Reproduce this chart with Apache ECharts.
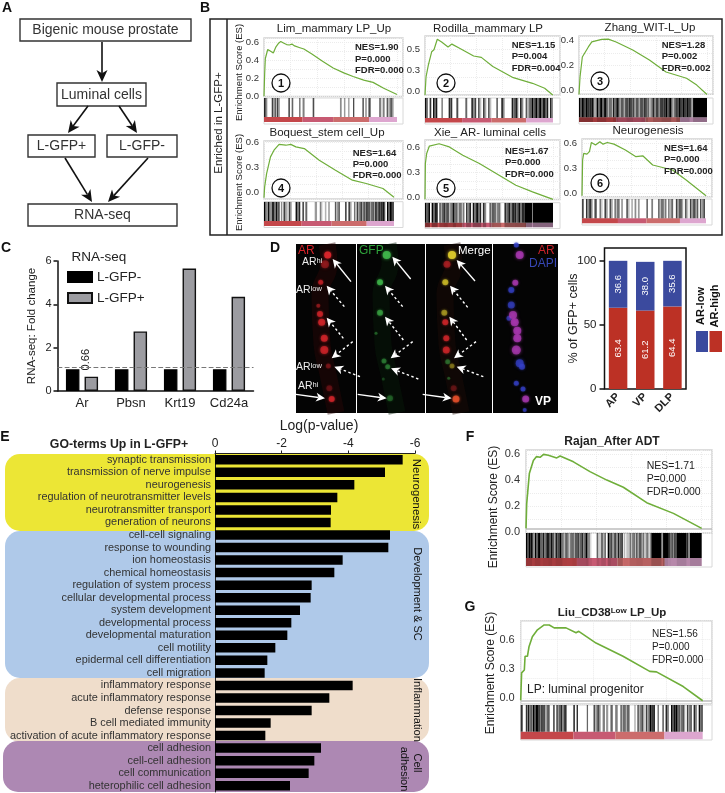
<!DOCTYPE html>
<html><head><meta charset="utf-8">
<style>html,body{margin:0;padding:0;background:#fff}#c{width:725px;height:793px}</style>
<script src="https://cdn.jsdelivr.net/npm/echarts@6/dist/echarts.min.js"></script>
</head><body><div id="c"></div>
<script>
// ---------- DATA ----------
const es1=[[0,0],[0.5,.25],[1,.42],[2,.44],[2.8,.52],[5,.50],[7,.48],[9,.55],[11,.59],[12.6,.61],[15,.59],[17,.575],[19,.57],[21,.58],[23,.56],[27,.54],[30,.525],[36,.47],[44,.39],[52,.315],[60,.26],[67,.22],[75,.18],[82,.155],[90,.09],[100,.02]];
const es2=[[0,-.05],[.8,.21],[2.6,.38],[5.2,.57],[7,.6],[9.6,.75],[13,.71],[18,.64],[21,.68],[27,.62],[38,.51],[44,.49],[53,.36],[69,.2],[84,.12],[93.5,.05],[100,-.05]];
const es3=[[0,-.03],[.8,.11],[2.6,.27],[7.3,.35],[10,.39],[17.7,.41],[22.9,.413],[29,.39],[42,.325],[55,.245],[68,.15],[84,.1],[92,.045],[100,-.03]];
const es4=[[0,-.06],[.5,.07],[2,.23],[5,.43],[7.7,.51],[11.6,.58],[16.8,.57],[20.6,.58],[24.5,.55],[31,.53],[42.5,.39],[55,.27],[68,.15],[78.6,.11],[91.5,.05],[100,-.055]];
const es5=[[0,-.02],[.3,.41],[1.3,.53],[3.4,.62],[11,.648],[19,.61],[29.5,.51],[42.5,.41],[55.6,.29],[71,.15],[84,.07],[100,-.02]];
const es6=[[0,-.03],[.5,.4],[1.4,.48],[4,.47],[6,.5],[7.6,.61],[10.9,.58],[14.4,.62],[17,.59],[20.4,.61],[25.8,.59],[35,.52],[43.5,.44],[49,.45],[57,.34],[73,.28],[84,.16],[100,-.03]];
const esF=[[0,.03],[.4,.22],[1.9,.45],[4.2,.55],[6,.58],[8,.575],[10,.597],[12.7,.59],[17.5,.57],[19.4,.585],[27,.54],[36.4,.465],[46,.40],[55.4,.345],[68.7,.227],[83.9,.145],[100,.03]];
const esG=[[0,-.02],[.5,.26],[2,.29],[2.4,.43],[3.7,.43],[4.6,.53],[6.4,.63],[9.2,.70],[12.9,.75],[15.7,.75],[18.4,.72],[24.9,.72],[30.4,.67],[31.9,.685],[41.4,.565],[56.2,.43],[70.9,.275],[74.6,.27],[89.3,.12],[100,-.025]];

// rank ranges of gene hits: [from %, to %, hit density]
const rug1=[[0,2.5,.7],[5.8,9,.6],[9.5,12,.6],[18.3,19.5,.7],[20.8,22,.6],[26.3,27.5,.5],[29,30.5,.5],[36.6,37.8,.7],[57.1,58.4,.45],[60.1,61.2,.4],[63.4,64.2,.5],[66.9,67.9,.7],[73.9,75.2,.6],[76.2,77.2,.5],[78.5,80.2,.7],[86.5,88.2,.5],[89.2,90.7,.5],[92.2,97.7,.5]];
const rug2=[[0,2.3,.8],[3.6,4.9,.8],[6.3,9.6,.85],[12.8,14,.5],[18.5,21.3,.8],[24.5,26,.7],[31.5,33,.6],[36.2,40,.7],[41.4,44,.5],[45.3,47.9,.6],[49.2,51.8,.5],[55.7,57,.6],[59.6,62.2,.7],[67.7,72.9,.75],[74.2,76.8,.7],[78.6,83.3,.5],[83.3,96.3,.85],[97.6,100,.7]];
const rug3=[[0,10.9,.95],[10.9,14,.5],[14,21.4,.85],[21.4,26.6,.55],[26.6,30.5,.8],[30.5,37,.6],[37,42.2,.8],[42.2,48.7,.6],[48.7,53.9,.75],[53.9,57.8,.45],[57.8,64.3,.7],[64.3,72.1,.9],[72.1,76,.5],[76,86.5,.95],[86.5,89.1,.6],[89.1,100,1]];
const rug4=[[0,2,.85],[2,3,.4],[3,5,.8],[5,6,.4],[6,8,.85],[8,9,.5],[9,12,.8],[13,15,.3],[15,17.6,.6],[17.6,18.9,.2],[19.1,21.4,.6],[24.3,27.9,.8],[29.5,30.8,.7],[31.8,33.3,.6],[39,40.8,.4],[42.9,45.5,.35],[46.8,48,.3],[49.4,50.6,.4],[54.5,58.4,.5],[62.3,63.6,.7],[64.9,67.4,.6],[69.2,71.3,.4],[71.3,76.5,.6],[76.5,80.4,.7],[80.4,85.5,.6],[85.5,88,.75],[88,93.3,.9],[94.6,100,.95]];
const rug5=[[0,3.9,.9],[5.2,9.9,.85],[11.2,14.4,.6],[14.4,17.8,.75],[17.8,21.7,.5],[21.7,24.3,.8],[24.3,30.8,.5],[32.1,36,.7],[37.3,43.9,.8],[45.2,47.8,.7],[50.4,54.3,.6],[54.3,59.5,.5],[62.1,69.9,.75],[69.9,77.8,.8],[77.8,83.6,1],[84,100,1]];
const rug6=[[0,1.4,.7],[3.2,8.6,.65],[10,11.9,.7],[14.1,16.8,.4],[18.1,20.8,.6],[22.2,24.9,.55],[26.2,30.3,.5],[31.6,33,.4],[35.7,38.4,.5],[39.7,41.1,.3],[42.4,43.8,.45],[45.1,46.5,.4],[51.9,53.2,.6],[55.9,57.3,.5],[61.4,68.1,.5],[69.5,73.5,.45],[75.7,81.6,.6],[83,85.7,.5],[87,93.8,.6],[95.1,99.2,.55]];
const rugF=[[0,3.4,.95],[3.4,5,.6],[5,8.2,.9],[8.2,9.6,.6],[9.6,12.6,.75],[12.6,14.9,.9],[14.9,16.8,.6],[16.8,20.7,.85],[20.7,23.5,.5],[23.5,26.4,.45],[26.4,29.3,.6],[29.3,34,.7],[34,35.6,.85],[35.6,37.5,.3],[40.2,41.7,.5],[41.7,42.8,.2],[42.8,45.5,.55],[46.5,48.4,.85],[48.4,52.2,.6],[52.2,55.1,.75],[55.6,58.5,.15],[58.9,62.7,.5],[62.7,66.5,.6],[66.5,71.3,.4],[71.3,77.1,1],[77.1,78,.4],[78,80.9,1],[80.9,82.8,.8],[82.8,85.7,.7],[85.7,91.4,1],[91.4,93.3,.7],[93.3,100,1]];
const rugG=[[0,1.1,.8],[2.8,3.7,.8],[3.9,6.1,.75],[6.5,9.8,.95],[9.8,12.6,.75],[12.6,15.9,.55],[17.8,18.7,.7],[19.6,21.9,.65],[21.9,25.2,.7],[28.9,29.8,.8],[30.7,31.5,.8],[36.3,37,.6],[40,44.1,.55],[45,46.3,.5],[46.9,48.1,.4],[49.3,50.6,.6],[51.9,53.3,.5],[54.8,59.8,.55],[62.6,63,.6],[64.1,68.1,.55],[68.7,70.9,.6],[70.9,73.7,.95],[75.2,75.9,.6],[77.8,78.7,.6],[79.6,81.5,.7],[82.6,86.7,.9],[86.7,90.4,.6],[91.3,94,.6],[95,96.9,.7],[97.8,100,.8]];
const heatRanges=[[0,29],[29,52],[52,79],[79,100]];

// Panel C
const geneNames=['Ar','Pbsn','Krt19','Cd24a'];
const gfpNeg=[1,1,1,1];
const gfpPos=[0.66,2.75,5.65,4.35];
const baseline=[1.08];
// Panel D bars
const prostateLobes=['AP','VP','DLP'];
const arHigh=[63.4,61.2,64.4];
const arLow=[36.6,38.0,35.6];
// Panel D micrograph spots: [x, y, spot size, intensity]
const spotsAR=[[31.7,11,7,.95],[29,20.3,8,.4],[24.7,38.3,5,.6],[22.3,61.7,4,.4],[24,70,6,.7],[25.7,78.3,7,.75],[28.3,94.3,7,.75],[28.3,106,8,.7],[32.3,122,5,.3],[35.7,155,6,.75],[33.3,144.3,6,.25]];
const spotsGFP=[[29.7,11,8,.9],[23,38.3,6,.8],[23,68.7,6,.6],[19,89.3,3,.3],[27,117,5,.4],[30.7,122.7,5,.4],[33,154.3,6,.3],[26.3,135,3,.2]];
const spotsMergeRed=[[21,20.3,7,.5],[19.3,78.3,6,.7],[20.3,94.3,6,.7],[20.3,106,7,.7],[27.7,144.3,6,.25]];
const spotsMergeYellow=[[26,11,8,1],[19.3,38.3,6,.7],[18.3,68.7,6,.5],[26,122,5,.35]];
const spotsMergeGreen=[[21.7,117.7,5,.4],[22.7,134.3,3,.3]];
const spotsMergeOrange=[[30,155,7,.8]];
const spotsDapiBlue=[[23.3,1,5,.7],[18.3,46,6,.7],[18.3,61,7,.65],[16,74.3,5,.6],[26.7,119.3,8,.7],[29,122.7,6,.7],[23.3,139.3,5,.7],[30,145,5,.7],[31.7,166,4,.6]];
const spotsDapiMagenta=[[26.7,11,8,.75],[22.3,38.7,6,.7],[20,71,8,.7],[21.7,78.3,8,.75],[24.3,86.7,8,.75],[24.3,94.3,8,.75],[23.3,106,9,.7],[32.7,155,7,.7]];
const tissueLine=[[31,0],[33,20],[24,50],[26,100],[32,130],[40,169]];

// Panel E
const goTerms=['synaptic transmission','transmission of nerve impulse','neurogenesis','regulation of neurotransmitter levels','neurotransmitter transport','generation of neurons','cell-cell signaling','response to wounding','ion homeostasis','chemical homeostasis','regulation of system process','cellular developmental process','system development','developmental process','developmental maturation','cell motility','epidermal cell differentiation','cell migration','inflammatory response','acute inflammatory response','defense response','B cell mediated immunity','activation of acute inflammatory response','cell adhesion','cell-cell adhesion','cell communication','heterophilic cell adhesion'];
const goLogP=[-5.63,-5.1,-4.18,-3.67,-3.48,-3.47,-5.25,-5.2,-3.83,-3.58,-2.9,-2.87,-2.55,-2.29,-2.17,-1.81,-1.57,-1.49,-4.13,-3.43,-2.9,-1.67,-1.51,-3.18,-2.98,-2.81,-2.25];

// ---------- LAYOUT ----------
const FF='"Liberation Sans",Arial,sans-serif';
const heatColors=['#C4474A','#C75A72','#CC6C6C','#DDA6CF'];
const stripePattern=[.15,-.25,.05];
const panels=[
 {es:es1,rug:rug1,L:264,R:403,C:397,top:38,bot:96.5,y0:96.3,s:90,ticks:[0,.2,.4,.6],labs:['0.0','0.2','0.4','0.6'],rugTop:98,heatTop:117,heatBot:122,gridBot:124,dark:0,fs:9.5},
 {es:es2,rug:rug2,L:425,R:560,C:553,top:36,bot:95,y0:91.7,s:70,ticks:[0,.3,.6],labs:['0.0','0.3','0.5'],rugTop:98,heatTop:118,heatBot:122.5,gridBot:124,dark:0,fs:9.5},
 {es:es3,rug:rug3,L:579,R:713,C:707,top:36,bot:94.3,y0:90.7,s:125,ticks:[0,.2,.4],labs:['0.0','0.2','0.4'],rugTop:98,heatTop:117.3,heatBot:122,gridBot:124,dark:.35,fs:9.5},
 {es:es4,rug:rug4,L:264,R:403,C:394,top:141,bot:199,y0:192.7,s:83.3,ticks:[0,.3,.6],labs:['0.0','0.3','0.6'],rugTop:201.7,heatTop:221,heatBot:226,gridBot:227.5,dark:0,fs:9.5},
 {es:es5,rug:rug5,L:425,R:560,C:553,top:140,bot:199.5,y0:197.7,s:83.3,ticks:[0,.3,.6],labs:['0.0','0.3','0.6'],rugTop:202.7,heatTop:222.7,heatBot:227.3,gridBot:228.5,dark:.4,fs:9.5},
 {es:es6,rug:rug6,L:582,R:712,C:706,top:139,bot:196.7,y0:193.3,s:83.3,ticks:[0,.3,.6],labs:['0.0','0.3','0.6'],rugTop:199,heatTop:218.3,heatBot:223.3,gridBot:225,dark:0,fs:9.5},
 {es:esF,rug:rugF,L:526,R:712,C:701.7,top:450,bot:533,y0:532.3,s:130.5,ticks:[0,.2,.4,.6],labs:['0.0','0.2','0.4','0.6'],rugTop:533,heatTop:558,heatBot:566,gridBot:567,dark:.25,fs:11,zero:.025,lw:1.6},
 {es:esG,rug:rugG,L:520.7,R:712,C:702.7,top:620.7,bot:704,y0:698.3,s:97.8,ticks:[0,.3,.6],labs:['0.0','0.3','0.6'],rugTop:705,heatTop:731.7,heatBot:739.3,gridBot:740,dark:0,fs:11,zero:-.025,lw:1.6}
];

const grid=[],xAxis=[],yAxis=[],series=[],graphic=[];
function addGrid(g,x,y){grid.push(Object.assign({containLabel:false},g));const i=grid.length-1;
  xAxis.push(Object.assign({gridIndex:i},x));yAxis.push(Object.assign({gridIndex:i},y));return i;}
function gridBox(l,t,r,b,extra){return Object.assign({left:l,top:t,width:r-l,height:b-t},extra||{});}
function txt(x,y,text,o){o=o||{};graphic.push({type:'text',x,y,rotation:o.rot||0,z:o.z==null?100:o.z,silent:true,style:{
  text,fontFamily:FF,fontSize:o.size||12,fontWeight:o.bold?'bold':'normal',fill:o.color||'#222',
  align:o.align||'center',verticalAlign:'middle',rich:o.rich}});}
function rect(x,y,w,h,o){o=o||{};graphic.push({type:'rect',z:o.z==null?50:o.z,silent:true,shape:{x,y,width:w,height:h,r:o.r||0},
  style:{fill:o.fill||'none',stroke:o.stroke||null,lineWidth:o.lw||0}});}
function arrow(x1,y1,x2,y2,o){o=o||{};const c=o.color||'#111',w=o.w||1.5,hl=o.hl||12,hw=o.hw||5;
  const a=Math.atan2(y2-y1,x2-x1),ca=Math.cos(a),sa=Math.sin(a);
  const bx=x2-ca*hl,by=y2-sa*hl,nx=x2-ca*hl*.72,ny=y2-sa*hl*.72;
  graphic.push({type:'line',z:100,silent:true,shape:{x1,y1,x2:nx,y2:ny},style:{stroke:c,lineWidth:w,lineDash:o.dash||null}});
  graphic.push({type:'polygon',z:100,silent:true,shape:{points:[[x2,y2],[bx-sa*hw,by+ca*hw],[nx,ny],[bx+sa*hw,by-ca*hw]]},style:{fill:c}});}

// ---------- Panel labels ----------
[['A',7,8],['B',205,8],['C',6,248],['D',275,248],['E',5,437],['F',470,437],['G',470,607]].forEach(p=>txt(p[1],p[2],p[0],{bold:true,size:14,color:'#111'}));

// ---------- Panel A ----------
[[20,19,171,22,'Bigenic mouse prostate'],[57,83,89,23,'Luminal cells'],[28,135,67,22,'L-GFP+'],[107,135,70,22,'L-GFP-'],[28,204,149,22,'RNA-seq']].forEach(b=>{
  rect(b[0],b[1],b[2],b[3],{stroke:'#333',lw:1.4});txt(b[0]+b[2]/2,b[1]+b[3]/2+.5,b[4],{size:14,color:'#333'});});
[[102,42,102,82],[88,106,68,133],[119,106,137,133],[65,158,92,202],[148,158,108,202]].forEach(a=>arrow(a[0],a[1],a[2],a[3],{hl:12,hw:5.5,w:1.6}));

// ---------- Panel B frame + GSEA ----------
rect(210,19,512,216,{stroke:'#222',lw:1.5});
graphic.push({type:'line',z:50,silent:true,shape:{x1:227,y1:19,x2:227,y2:235},style:{stroke:'#222',lineWidth:1.5}});
txt(219,123,'Enriched in L-GFP+',{rot:Math.PI/2,size:11.5,color:'#222'});
txt(239,72.5,'Enrichment Score (ES)',{rot:Math.PI/2,size:9.5,color:'#222'});
txt(239,182.5,'Enrichment Score (ES)',{rot:Math.PI/2,size:9.5,color:'#222'});
txt(494,507,'Enrichment Score (ES)',{rot:Math.PI/2,size:12,color:'#222'});
txt(491,673,'Enrichment Score (ES)',{rot:Math.PI/2,size:12,color:'#222'});

panels.forEach(p=>{
  const xMax=100*(p.R-p.L)/(p.C-p.L);
  const faint={show:true,lineStyle:{color:'#ececec',type:'dotted',width:1}};
  const iEs=addGrid(gridBox(p.L,p.top,p.R,p.bot,{show:true,borderColor:'#d2d2d2',borderWidth:1.4}),
    {type:'value',min:0,max:xMax,interval:20,axisLine:{show:false},axisTick:{show:false},axisLabel:{show:false},splitLine:faint},
    {type:'value',min:(p.y0-p.bot)/p.s,max:(p.y0-p.top)/p.s,axisLine:{show:false},axisTick:{show:false},splitLine:faint,
     axisLabel:{customValues:p.ticks,margin:p.fs>10?6:5,fontSize:p.fs,color:'#333',fontFamily:FF,formatter:v=>{const k=p.ticks.findIndex(t=>Math.abs(t-v)<1e-6);return k<0?'':p.labs[k];}}});
  const s={type:'line',xAxisIndex:iEs,yAxisIndex:iEs,data:p.es,showSymbol:false,symbol:'none',z:5,lineStyle:{color:'#6FAE3A',width:p.lw||1.2}};
  if(p.zero!=null)s.markLine={silent:true,symbol:'none',animation:false,label:{show:false},lineStyle:{color:'#bdbdbd',width:1.5,type:'solid'},data:[{yAxis:p.zero}]};
  series.push(s);
  const H=p.gridBot-p.rugTop, fy=py=>(p.gridBot-py)/H;
  const iR=addGrid(gridBox(p.L,p.rugTop,p.R,p.gridBot,{show:true,borderColor:'#d8d8d8',borderWidth:1}),
    {type:'value',min:0,max:xMax,show:false},{type:'value',min:0,max:1,show:false});
  series.push({type:'custom',xAxisIndex:iR,yAxisIndex:iR,silent:true,clip:true,z:3,data:heatRanges.map((r,i)=>[r[0],r[1],i]),encode:{x:[0,1]},
    renderItem:(pa,api)=>{const a=api.coord([api.value(0),fy(p.heatTop)]),b=api.coord([api.value(1),fy(p.heatBot)]);
      return {type:'rect',shape:{x:a[0],y:a[1],width:b[0]-a[0],height:b[1]-a[1]},style:{fill:heatColors[api.value(2)]}};}});
  series.push({type:'custom',xAxisIndex:iR,yAxisIndex:iR,silent:true,clip:true,z:4,data:p.rug,encode:{x:[0,1]},
    renderItem:(pa,api)=>{const a=api.coord([api.value(0),fy(p.rugTop)]),b=api.coord([api.value(1),fy(p.heatTop)]),c=api.coord([api.value(1),fy(p.heatBot)]);
      const d=api.value(2),w=b[0]-a[0],n=(w>=2.6&&d<.97)?Math.round(w/1.4):1,children=[];
      for(let i=0;i<n;i++){const al=n===1?d:Math.max(.08,Math.min(1,d+stripePattern[i%3]));
        children.push({type:'rect',shape:{x:a[0]+i*w/n,y:a[1],width:w/n,height:b[1]-a[1]},style:{fill:'rgba(0,0,0,'+al+')'}});}
      children.push({type:'rect',shape:{x:a[0],y:b[1],width:w,height:c[1]-b[1]},style:{fill:'rgba(0,0,0,'+(d*p.dark)+')'}});
      return {type:'group',children};}});
});

// GSEA titles and statistics
[['Lim_mammary LP_Up',334,29],['Rodilla_mammary LP',488,29],['Zhang_WIT-L_Up',650,28],['Boquest_stem cell_Up',327,133],['Xie_ AR- luminal cells',490,133],['Neurogenesis',648,131]].forEach(t=>txt(t[1],t[2],t[0],{size:11.5,color:'#222'}));
txt(612,442,'Rajan_After ADT',{size:12,bold:true,color:'#222'});
txt(612,613,'{a|Liu_CD38}{s|Low}{a| LP_Up}',{rich:{a:{fontSize:11.5,fontWeight:'bold',fontFamily:FF,fill:'#222'},s:{fontSize:8,fontWeight:'bold',fontFamily:FF,fill:'#222',verticalAlign:'top'}}});
[[355,47,59,70,['NES=1.90','P=0.000','FDR=0.000']],[511.7,45.5,56.5,68,['NES=1.15','P=0.004','FDR=0.004']],[661.7,45.5,56.5,68,['NES=1.28','P=0.002','FDR=0.002']],
 [352.7,153,164,175,['NES=1.64','P=0.000','FDR=0.000']],[505,151,162.5,174,['NES=1.67','P=0.000','FDR=0.000']],[664,148,159,171,['NES=1.64','P=0.000','FDR=0.000']]].forEach(n=>{
  n[4].forEach((s,i)=>txt(n[0],n[i+1],s,{align:'left',size:9.5,bold:true,color:'#222'}));});
[['NES=1.71',466],['P=0.000',479.5],['FDR=0.000',492]].forEach(n=>txt(646.7,n[1],n[0],{align:'left',size:10.5,color:'#222'}));
[['NES=1.56',634],['P=0.000',647],['FDR=0.000',660]].forEach(n=>txt(652,n[1],n[0],{align:'left',size:10,color:'#222'}));
txt(527,690,'LP: luminal progenitor',{align:'left',size:12,color:'#222'});
[[281,83,'1'],[446,83,'2'],[600,81,'3'],[281,188,'4'],[446,188,'5'],[600,183,'6']].forEach(c=>{
  graphic.push({type:'circle',z:99,silent:true,shape:{cx:c[0],cy:c[1],r:9},style:{fill:'#fff',stroke:'#111',lineWidth:1.3}});
  txt(c[0],c[1]+.5,c[2],{bold:true,size:11,color:'#111'});});

// ---------- Panel C ----------
const iC=addGrid(gridBox(57.5,261,253.5,391),
  {type:'category',data:geneNames,axisLine:{lineStyle:{color:'#111',width:1.5}},axisTick:{alignWithLabel:true,length:4,lineStyle:{color:'#111',width:1.5}},axisLabel:{interval:0,hideOverlap:false,fontSize:13,color:'#222',margin:6,fontFamily:FF}},
  {type:'value',min:0,max:6,interval:2,name:'RNA-seq: Fold change',nameLocation:'middle',nameGap:20,nameMoveOverlap:false,nameTextStyle:{fontSize:11.5,color:'#222',fontFamily:FF},axisLine:{show:true,lineStyle:{color:'#111',width:1.5}},axisTick:{show:true,length:4,lineStyle:{color:'#111',width:1.5}},splitLine:{show:false},axisLabel:{fontSize:11,color:'#222',margin:6,fontFamily:FF}});
series.push({type:'bar',name:'L-GFP-',xAxisIndex:iC,yAxisIndex:iC,data:gfpNeg,barWidth:13.5,barGap:'38%',itemStyle:{color:'#000',borderColor:'#000',borderWidth:1.2},
  markLine:{silent:true,symbol:'none',animation:false,label:{show:false},lineStyle:{color:'#777',type:'dashed',width:1.2},data:baseline.map(v=>({yAxis:v}))}});
series.push({type:'bar',name:'L-GFP+',xAxisIndex:iC,yAxisIndex:iC,barWidth:13.5,barGap:'38%',itemStyle:{color:'#9C9CA1',borderColor:'#111',borderWidth:1.4},
  data:gfpPos.map((v,i)=>i===0?{value:v,label:{show:true,position:'top',rotate:90,distance:17,fontSize:11,color:'#222',fontFamily:FF,formatter:'{c}'}}:v)});
txt(99,257,'RNA-seq',{size:13.5,color:'#222'});

// ---------- Panel D micrograph ----------
function micro(l,r,layers,tissue,tcolor){
  const i=addGrid(gridBox(l,244,r,413,{show:true,backgroundColor:'#040404',borderWidth:0}),
    {type:'value',min:0,max:r-l,show:false},{type:'value',min:0,max:169,inverse:true,show:false});
  series.push({type:'line',xAxisIndex:i,yAxisIndex:i,data:tissue,smooth:true,symbol:'none',silent:true,z:2,lineStyle:{color:tcolor,width:17,opacity:.45}});
  layers.forEach(ly=>{series.push({type:'scatter',xAxisIndex:i,yAxisIndex:i,silent:true,z:3,
    data:ly[0].map(d=>({value:[d[0],d[1]],symbolSize:d[2],itemStyle:{color:ly[1],opacity:d[3],shadowBlur:d[2]*.4,shadowColor:ly[1]}}))});});
}
micro(296,356,[[spotsAR,'#D8252B']],tissueLine,'#2a0707');
micro(357,425,[[spotsGFP,'#3FB54A']],tissueLine,'#071a09');
micro(426,492,[[spotsMergeRed,'#D9262B'],[spotsMergeGreen,'#3FA544'],[spotsMergeYellow,'#D6C42A'],[spotsMergeOrange,'#E8502A']],tissueLine.map(d=>[d[0]-5,d[1]]),'#1c0a06');
micro(493,558,[[spotsDapiBlue,'#3540C8'],[spotsDapiMagenta,'#B03AB8']],[[0,0],[0,0]],'#040404');

const wA={color:'#fff',w:1.4,hl:9,hw:4.5};const wD={color:'#fff',w:1.4,hl:9,hw:4.5,dash:[2.5,2.5]};
const zp=(x,y)=>[290+x/3,235+y/3];
function zArrow(a,b,c,d,o){const p=zp(a,b),q=zp(c,d);arrow(p[0],p[1],q[0],q[1],o);}
[[183,140,128,72],[18,478,105,490],[362,132,307,65],[203,478,290,490],[555,138,500,75],[398,478,485,490]].forEach(a=>zArrow(a[0],a[1],a[2],a[3],wA));
[[163,215,110,152],[160,310,110,248],[188,320,125,370],[210,425,133,395],[338,215,285,152],[340,315,285,245],[368,320,302,370],[385,432,303,400],[533,217,480,152],[530,315,478,245],[558,320,492,370],[580,425,500,395]].forEach(a=>zArrow(a[0],a[1],a[2],a[3],wD));
const sup={a:{fontSize:10.5,fill:'#eee',fontFamily:FF},s:{fontSize:7.5,fill:'#eee',fontFamily:FF,verticalAlign:'top'}};
txt(298,251,'AR',{align:'left',size:12,color:'#D8232A'});
txt(359,251,'GFP',{align:'left',size:12,color:'#2FA33B'});
txt(458,251,'Merge',{align:'left',size:11.5,color:'#fff'});
txt(538,251,'AR',{align:'left',size:12,color:'#C8232A'});
txt(529,264,'DAPI',{align:'left',size:12,color:'#3747B5'});
txt(535,402,'VP',{align:'left',size:12,bold:true,color:'#fff'});
txt(302,262,'{a|AR}{s|hi}',{align:'left',rich:sup});
txt(296,290,'{a|AR}{s|low}',{align:'left',rich:sup});
txt(296,367,'{a|AR}{s|low}',{align:'left',rich:sup});
txt(298,386,'{a|AR}{s|hi}',{align:'left',rich:sup});

// ---------- Panel D bars ----------
const iD=addGrid(gridBox(604.5,248,686,389,{show:true,borderColor:'#111',borderWidth:1.5}),
  {type:'category',data:prostateLobes,axisLine:{show:false},axisTick:{alignWithLabel:true,length:4,lineStyle:{color:'#111',width:1.5}},axisLabel:{interval:0,rotate:45,fontSize:11,fontWeight:'bold',color:'#222',margin:6,fontFamily:FF}},
  {type:'value',min:0,max:110,interval:50,name:'% of GFP+ cells',nameLocation:'middle',nameGap:24,nameMoveOverlap:false,nameTextStyle:{fontSize:12.5,color:'#222',fontFamily:FF},axisLine:{show:false},axisTick:{show:true,length:5,lineStyle:{color:'#111',width:1.5}},splitLine:{show:false},axisLabel:{fontSize:11.5,color:'#222',margin:8,showMaxLabel:false,fontFamily:FF}});
const barLab={show:true,position:'inside',rotate:90,fontSize:9.5,color:'#fff',fontFamily:FF,formatter:p=>p.value.toFixed(1)};
series.push({type:'bar',name:'AR-high',stack:'d',xAxisIndex:iD,yAxisIndex:iD,data:arHigh,barWidth:18.5,itemStyle:{color:'#BC3125'},label:barLab});
series.push({type:'bar',name:'AR-low',stack:'d',xAxisIndex:iD,yAxisIndex:iD,data:arLow,barWidth:18.5,itemStyle:{color:'#3B4A9E'},label:barLab});
rect(696,331,12,21,{fill:'#3B4A9E',z:60});rect(709.5,331,12.5,21,{fill:'#BC3125',z:60});
txt(701,306,'AR-low',{rot:Math.PI/2,size:11,bold:true,color:'#111'});
txt(714.5,306,'AR-high',{rot:Math.PI/2,size:11,bold:true,color:'#111'});

// ---------- Panel E ----------
[[5,531,424,147,'#AFC9E9',15],[5,454,424,77,'#ECE635',15],[5,678,424,64,'#EFDDCB',15],[3,741,426,51,'#AD88B3',15]].forEach(b=>rect(b[0],b[1],b[2],b[3],{fill:b[4],r:b[5],z:-1}));
const iE=addGrid(gridBox(215,453.5,415,792),
  {type:'value',position:'top',min:-6,max:0,interval:2,inverse:true,axisLine:{show:true,lineStyle:{color:'#222',width:1}},axisTick:{show:true,length:3,lineStyle:{color:'#222'}},splitLine:{show:false},axisLabel:{fontSize:12,color:'#222',margin:4,fontFamily:FF,formatter:v=>String(v)}},
  {type:'category',data:goTerms,inverse:true,axisLine:{show:true,onZero:false,lineStyle:{color:'#222',width:1}},axisTick:{show:false},axisLabel:{fontSize:10.9,color:'#333',margin:4,interval:0,fontFamily:FF}});
series.push({type:'bar',xAxisIndex:iE,yAxisIndex:iE,data:goLogP,barWidth:9.5,itemStyle:{color:'#000'}});
txt(119,445,'GO-terms Up in L-GFP+',{bold:true,size:12.3,color:'#222'});
txt(319,426,'Log(p-value)',{size:14,color:'#222'});
txt(416.5,494,'Neurogenesis',{rot:-Math.PI/2,size:11.4,color:'#111'});
txt(417,594,'Development & SC',{rot:-Math.PI/2,size:11,color:'#111'});
txt(417,710,'Inflammation',{rot:-Math.PI/2,size:11.2,color:'#111'});
txt(417,763,'Cell',{rot:-Math.PI/2,size:11,color:'#111'});
txt(404,769,'adhesion',{rot:-Math.PI/2,size:11,color:'#111'});

const chart=echarts.init(document.getElementById('c'),null,{renderer:'canvas',width:725,height:793});
chart.setOption({animation:false,backgroundColor:'#fff',textStyle:{fontFamily:FF},
  legend:{data:[{name:'L-GFP-',icon:'rect'},{name:'L-GFP+',icon:'rect'}],orient:'vertical',left:67,top:270,padding:0,itemWidth:24,itemHeight:10,itemGap:7,selectedMode:false,textStyle:{fontSize:13.5,color:'#222',fontFamily:FF}},
  grid,xAxis,yAxis,series,graphic:{elements:graphic}});
</script></body></html>
